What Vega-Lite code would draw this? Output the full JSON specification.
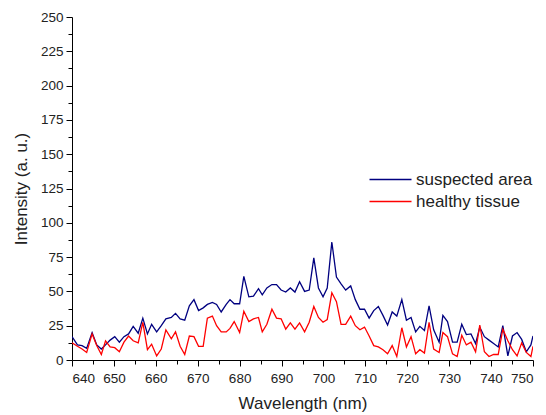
{
  "$schema": "https://vega.github.io/schema/vega-lite/v6.json",
  "width": 461,
  "height": 343,
  "autosize": {"type": "none"},
  "padding": {"left": 72, "top": 17, "right": 13, "bottom": 55},
  "background": "white",
  "config": {
    "view": {"stroke": null},
    "font": "Liberation Sans",
    "axis": {
      "grid": false,
      "domainColor": "black",
      "tickColor": "black",
      "labelColor": "#222222",
      "titleColor": "#222222",
      "labelFont": "Liberation Sans",
      "titleFont": "Liberation Sans",
      "labelFontSize": 13.5,
      "titleFontSize": 17,
      "titleFontWeight": "normal",
      "domainWidth": 1,
      "tickWidth": 1
    }
  },
  "data": {
    "values": [
      {"wl": 640.0, "s": "suspected area", "v": 17}, {"wl": 640.0, "s": "healthy tissue", "v": 12.5},
      {"wl": 641.3, "s": "suspected area", "v": 11}, {"wl": 641.3, "s": "healthy tissue", "v": 10},
      {"wl": 642.4, "s": "suspected area", "v": 10.5}, {"wl": 642.4, "s": "healthy tissue", "v": 8},
      {"wl": 643.5, "s": "suspected area", "v": 8.5}, {"wl": 643.5, "s": "healthy tissue", "v": 5.5},
      {"wl": 644.8, "s": "suspected area", "v": 20}, {"wl": 644.8, "s": "healthy tissue", "v": 19},
      {"wl": 645.9, "s": "suspected area", "v": 11}, {"wl": 645.9, "s": "healthy tissue", "v": 10.5},
      {"wl": 647.0, "s": "suspected area", "v": 8}, {"wl": 647.0, "s": "healthy tissue", "v": 4},
      {"wl": 648.0, "s": "suspected area", "v": 11}, {"wl": 648.0, "s": "healthy tissue", "v": 14},
      {"wl": 649.1, "s": "suspected area", "v": 14.5}, {"wl": 649.1, "s": "healthy tissue", "v": 9.5},
      {"wl": 650.2, "s": "suspected area", "v": 17}, {"wl": 650.2, "s": "healthy tissue", "v": 9},
      {"wl": 651.3, "s": "suspected area", "v": 13}, {"wl": 651.3, "s": "healthy tissue", "v": 6},
      {"wl": 652.4, "s": "suspected area", "v": 17}, {"wl": 652.4, "s": "healthy tissue", "v": 13},
      {"wl": 653.5, "s": "suspected area", "v": 19}, {"wl": 653.5, "s": "healthy tissue", "v": 17.5},
      {"wl": 654.6, "s": "suspected area", "v": 24.5}, {"wl": 654.6, "s": "healthy tissue", "v": 14},
      {"wl": 655.8, "s": "suspected area", "v": 19.5}, {"wl": 655.8, "s": "healthy tissue", "v": 12.5},
      {"wl": 656.9, "s": "suspected area", "v": 30.5}, {"wl": 656.9, "s": "healthy tissue", "v": 27.5},
      {"wl": 658.0, "s": "suspected area", "v": 19}, {"wl": 658.0, "s": "healthy tissue", "v": 7.5},
      {"wl": 659.0, "s": "suspected area", "v": 26}, {"wl": 659.0, "s": "healthy tissue", "v": 11.5},
      {"wl": 660.2, "s": "suspected area", "v": 20.5}, {"wl": 660.2, "s": "healthy tissue", "v": 3},
      {"wl": 661.3, "s": "suspected area", "v": 25}, {"wl": 661.3, "s": "healthy tissue", "v": 8},
      {"wl": 662.4, "s": "suspected area", "v": 30}, {"wl": 662.4, "s": "healthy tissue", "v": 22},
      {"wl": 663.7, "s": "suspected area", "v": 31}, {"wl": 663.7, "s": "healthy tissue", "v": 15.5},
      {"wl": 664.7, "s": "suspected area", "v": 34}, {"wl": 664.7, "s": "healthy tissue", "v": 20.5},
      {"wl": 665.8, "s": "suspected area", "v": 30}, {"wl": 665.8, "s": "healthy tissue", "v": 10},
      {"wl": 666.9, "s": "suspected area", "v": 29}, {"wl": 666.9, "s": "healthy tissue", "v": 4},
      {"wl": 668.0, "s": "suspected area", "v": 39.5}, {"wl": 668.0, "s": "healthy tissue", "v": 17.5},
      {"wl": 669.1, "s": "suspected area", "v": 44}, {"wl": 669.1, "s": "healthy tissue", "v": 17},
      {"wl": 670.2, "s": "suspected area", "v": 36}, {"wl": 670.2, "s": "healthy tissue", "v": 10},
      {"wl": 671.3, "s": "suspected area", "v": 38}, {"wl": 671.3, "s": "healthy tissue", "v": 10},
      {"wl": 672.3, "s": "suspected area", "v": 40.5}, {"wl": 672.3, "s": "healthy tissue", "v": 30.5},
      {"wl": 673.5, "s": "suspected area", "v": 42}, {"wl": 673.5, "s": "healthy tissue", "v": 32},
      {"wl": 674.5, "s": "suspected area", "v": 40.5}, {"wl": 674.5, "s": "healthy tissue", "v": 25},
      {"wl": 675.6, "s": "suspected area", "v": 35}, {"wl": 675.6, "s": "healthy tissue", "v": 20.5},
      {"wl": 676.8, "s": "suspected area", "v": 40.5}, {"wl": 676.8, "s": "healthy tissue", "v": 20.5},
      {"wl": 677.7, "s": "suspected area", "v": 44}, {"wl": 677.7, "s": "healthy tissue", "v": 23},
      {"wl": 678.7, "s": "suspected area", "v": 41}, {"wl": 678.7, "s": "healthy tissue", "v": 28},
      {"wl": 680.0, "s": "suspected area", "v": 41}, {"wl": 680.0, "s": "healthy tissue", "v": 20},
      {"wl": 681.0, "s": "suspected area", "v": 61}, {"wl": 681.0, "s": "healthy tissue", "v": 35.5},
      {"wl": 682.2, "s": "suspected area", "v": 46}, {"wl": 682.2, "s": "healthy tissue", "v": 28},
      {"wl": 683.3, "s": "suspected area", "v": 46.5}, {"wl": 683.3, "s": "healthy tissue", "v": 30},
      {"wl": 684.5, "s": "suspected area", "v": 52}, {"wl": 684.5, "s": "healthy tissue", "v": 31},
      {"wl": 685.4, "s": "suspected area", "v": 47.5}, {"wl": 685.4, "s": "healthy tissue", "v": 20.5},
      {"wl": 686.5, "s": "suspected area", "v": 52.5}, {"wl": 686.5, "s": "healthy tissue", "v": 26},
      {"wl": 687.7, "s": "suspected area", "v": 55}, {"wl": 687.7, "s": "healthy tissue", "v": 37},
      {"wl": 688.8, "s": "suspected area", "v": 55}, {"wl": 688.8, "s": "healthy tissue", "v": 30.5},
      {"wl": 689.9, "s": "suspected area", "v": 51}, {"wl": 689.9, "s": "healthy tissue", "v": 30},
      {"wl": 691.0, "s": "suspected area", "v": 49.5}, {"wl": 691.0, "s": "healthy tissue", "v": 22.5},
      {"wl": 692.1, "s": "suspected area", "v": 52.5}, {"wl": 692.1, "s": "healthy tissue", "v": 27},
      {"wl": 693.2, "s": "suspected area", "v": 49.5}, {"wl": 693.2, "s": "healthy tissue", "v": 22.5},
      {"wl": 694.3, "s": "suspected area", "v": 57}, {"wl": 694.3, "s": "healthy tissue", "v": 27},
      {"wl": 695.5, "s": "suspected area", "v": 50}, {"wl": 695.5, "s": "healthy tissue", "v": 20.5},
      {"wl": 696.6, "s": "suspected area", "v": 51}, {"wl": 696.6, "s": "healthy tissue", "v": 27.5},
      {"wl": 697.7, "s": "suspected area", "v": 74.5}, {"wl": 697.7, "s": "healthy tissue", "v": 39},
      {"wl": 698.8, "s": "suspected area", "v": 52.5}, {"wl": 698.8, "s": "healthy tissue", "v": 31},
      {"wl": 699.9, "s": "suspected area", "v": 46}, {"wl": 699.9, "s": "healthy tissue", "v": 27.5},
      {"wl": 700.9, "s": "suspected area", "v": 52.5}, {"wl": 700.9, "s": "healthy tissue", "v": 29.5},
      {"wl": 702.0, "s": "suspected area", "v": 86}, {"wl": 702.0, "s": "healthy tissue", "v": 49},
      {"wl": 703.1, "s": "suspected area", "v": 60.5}, {"wl": 703.1, "s": "healthy tissue", "v": 42.5},
      {"wl": 704.2, "s": "suspected area", "v": 55.5}, {"wl": 704.2, "s": "healthy tissue", "v": 26},
      {"wl": 705.3, "s": "suspected area", "v": 51}, {"wl": 705.3, "s": "healthy tissue", "v": 26},
      {"wl": 706.5, "s": "suspected area", "v": 54}, {"wl": 706.5, "s": "healthy tissue", "v": 32},
      {"wl": 707.6, "s": "suspected area", "v": 44}, {"wl": 707.6, "s": "healthy tissue", "v": 25},
      {"wl": 708.7, "s": "suspected area", "v": 37}, {"wl": 708.7, "s": "healthy tissue", "v": 22},
      {"wl": 709.8, "s": "suspected area", "v": 37}, {"wl": 709.8, "s": "healthy tissue", "v": 24},
      {"wl": 710.9, "s": "suspected area", "v": 30.5}, {"wl": 710.9, "s": "healthy tissue", "v": 17.5},
      {"wl": 712.0, "s": "suspected area", "v": 36}, {"wl": 712.0, "s": "healthy tissue", "v": 10.5},
      {"wl": 713.1, "s": "suspected area", "v": 39}, {"wl": 713.1, "s": "healthy tissue", "v": 9.5},
      {"wl": 714.2, "s": "suspected area", "v": 32.5}, {"wl": 714.2, "s": "healthy tissue", "v": 7.5},
      {"wl": 715.3, "s": "suspected area", "v": 25.5}, {"wl": 715.3, "s": "healthy tissue", "v": 4.5},
      {"wl": 716.4, "s": "suspected area", "v": 35}, {"wl": 716.4, "s": "healthy tissue", "v": 10.5},
      {"wl": 717.5, "s": "suspected area", "v": 32}, {"wl": 717.5, "s": "healthy tissue", "v": 2.5},
      {"wl": 718.7, "s": "suspected area", "v": 44}, {"wl": 718.7, "s": "healthy tissue", "v": 23.5},
      {"wl": 719.8, "s": "suspected area", "v": 29}, {"wl": 719.8, "s": "healthy tissue", "v": 9.5},
      {"wl": 720.9, "s": "suspected area", "v": 31}, {"wl": 720.9, "s": "healthy tissue", "v": 17},
      {"wl": 722.0, "s": "suspected area", "v": 20.5}, {"wl": 722.0, "s": "healthy tissue", "v": 4.5},
      {"wl": 723.0, "s": "suspected area", "v": 24.5}, {"wl": 723.0, "s": "healthy tissue", "v": 7.5},
      {"wl": 724.1, "s": "suspected area", "v": 21.5}, {"wl": 724.1, "s": "healthy tissue", "v": 5},
      {"wl": 725.2, "s": "suspected area", "v": 39.5}, {"wl": 725.2, "s": "healthy tissue", "v": 27.5},
      {"wl": 726.3, "s": "suspected area", "v": 22}, {"wl": 726.3, "s": "healthy tissue", "v": 8},
      {"wl": 727.6, "s": "suspected area", "v": 13}, {"wl": 727.6, "s": "healthy tissue", "v": 5.5},
      {"wl": 728.5, "s": "suspected area", "v": 32.5}, {"wl": 728.5, "s": "healthy tissue", "v": 20},
      {"wl": 729.6, "s": "suspected area", "v": 28}, {"wl": 729.6, "s": "healthy tissue", "v": 17},
      {"wl": 730.8, "s": "suspected area", "v": 13}, {"wl": 730.8, "s": "healthy tissue", "v": 4.5},
      {"wl": 731.9, "s": "suspected area", "v": 13}, {"wl": 731.9, "s": "healthy tissue", "v": 2.5},
      {"wl": 733.0, "s": "suspected area", "v": 26}, {"wl": 733.0, "s": "healthy tissue", "v": 18},
      {"wl": 734.1, "s": "suspected area", "v": 18.5}, {"wl": 734.1, "s": "healthy tissue", "v": 11},
      {"wl": 735.2, "s": "suspected area", "v": 19}, {"wl": 735.2, "s": "healthy tissue", "v": 13},
      {"wl": 736.3, "s": "suspected area", "v": 12}, {"wl": 736.3, "s": "healthy tissue", "v": 6},
      {"wl": 737.3, "s": "suspected area", "v": 24}, {"wl": 737.3, "s": "healthy tissue", "v": 25.5},
      {"wl": 738.4, "s": "suspected area", "v": 17}, {"wl": 738.4, "s": "healthy tissue", "v": 6},
      {"wl": 739.5, "s": "suspected area", "v": 14.5}, {"wl": 739.5, "s": "healthy tissue", "v": 2.5},
      {"wl": 740.6, "s": "suspected area", "v": 12}, {"wl": 740.6, "s": "healthy tissue", "v": 4},
      {"wl": 741.7, "s": "suspected area", "v": 9.5}, {"wl": 741.7, "s": "healthy tissue", "v": 4},
      {"wl": 742.8, "s": "suspected area", "v": 25}, {"wl": 742.8, "s": "healthy tissue", "v": 22.5},
      {"wl": 744.0, "s": "suspected area", "v": 3}, {"wl": 744.0, "s": "healthy tissue", "v": 14},
      {"wl": 745.1, "s": "suspected area", "v": 17.5}, {"wl": 745.1, "s": "healthy tissue", "v": 7.5},
      {"wl": 746.2, "s": "suspected area", "v": 20}, {"wl": 746.2, "s": "healthy tissue", "v": 3},
      {"wl": 747.3, "s": "suspected area", "v": 15}, {"wl": 747.3, "s": "healthy tissue", "v": 12.5},
      {"wl": 748.4, "s": "suspected area", "v": 6}, {"wl": 748.4, "s": "healthy tissue", "v": 5.5},
      {"wl": 749.5, "s": "suspected area", "v": 11}, {"wl": 749.5, "s": "healthy tissue", "v": 2.5},
      {"wl": 750.0, "s": "suspected area", "v": 17.5}, {"wl": 750.0, "s": "healthy tissue", "v": 10}
    ]
  },
  "mark": {"type": "line", "strokeWidth": 1.3, "clip": true},
  "encoding": {
    "x": {
      "field": "wl",
      "type": "quantitative",
      "scale": {"domain": [640, 750], "nice": false, "zero": false},
      "axis": {
        "title": "Wavelength (nm)",
        "values": [640, 645, 650, 655, 660, 665, 670, 675, 680, 685, 690, 695, 700, 705, 710, 715, 720, 725, 730, 735, 740, 745, 750],
        "labelExpr": "datum.value % 10 === 0 ? datum.label : ''",
        "tickSize": {"condition": {"test": "datum.value % 10 === 0", "value": 6}, "value": 4},
        "labelPadding": 5,
        "titlePadding": 11
      }
    },
    "y": {
      "field": "v",
      "type": "quantitative",
      "scale": {"domain": [0, 250], "nice": false},
      "axis": {
        "title": "Intensity (a. u.)",
        "values": [0, 12.5, 25, 37.5, 50, 62.5, 75, 87.5, 100, 112.5, 125, 137.5, 150, 162.5, 175, 187.5, 200, 212.5, 225, 237.5, 250],
        "labelExpr": "datum.value % 25 === 0 ? datum.label : ''",
        "tickSize": {"condition": {"test": "datum.value % 25 === 0", "value": 6}, "value": 4},
        "labelPadding": 3,
        "titlePadding": 10
      }
    },
    "color": {
      "field": "s",
      "type": "nominal",
      "sort": ["suspected area", "healthy tissue"],
      "scale": {"domain": ["suspected area", "healthy tissue"], "range": ["#000080", "#ff0000"]},
      "legend": {
        "title": null,
        "orient": "none",
        "legendX": 310,
        "legendY": 154,
        "symbolType": "M-3,0H3",
        "symbolSize": 196,
        "symbolStrokeWidth": 1.3,
        "symbolFillColor": "transparent",
        "labelOffset": 17,
        "labelFont": "Liberation Sans",
        "labelFontSize": 17,
        "labelColor": "#222222",
        "rowPadding": 4,
        "padding": 0
      }
    }
  }
}
